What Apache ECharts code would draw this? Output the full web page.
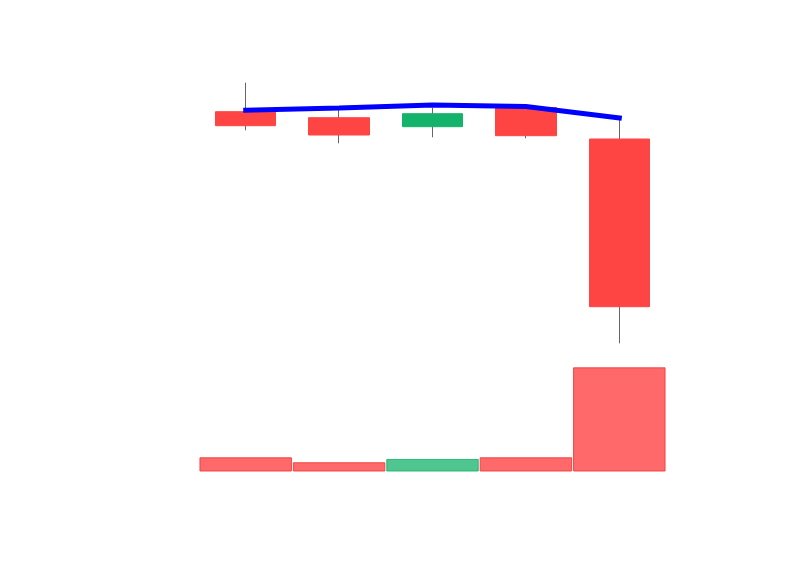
<!DOCTYPE html>
<html>
<head>
<meta charset="utf-8">
<script src="https://cdn.jsdelivr.net/npm/echarts@6/dist/echarts.min.js"></script>
<style>html,body{margin:0;padding:0;background:#fff;}#c{width:800px;height:575px;}</style>
</head>
<body>
<div id="c"></div>
<script>
var categories = ['D1', 'D2', 'D3', 'D4', 'D5'];
var opens  = [74.83, 74.23, 73.33, 75.25, 72.10];
var closes = [73.43, 72.50, 74.63, 72.43, 55.33];
var lows   = [72.97, 71.67, 72.27, 72.17, 51.67];
var highs  = [77.73, 75.00, 75.23, 75.40, 74.20];
var lineValues = [74.97, 75.20, 75.50, 75.35, 74.20];
var volumes = [12.9, 8.4, 11.4, 12.9, 94.7];

var RED = '#ff4444', GREEN = '#14b36b';

var wickData = categories.map(function (c, i) { return [lows[i], highs[i], lows[i], highs[i]]; });
var bodyData = categories.map(function (c, i) {
  return [opens[i], closes[i], Math.min(opens[i], closes[i]), Math.max(opens[i], closes[i])];
});
var volData = categories.map(function (c, i) {
  var up = closes[i] >= opens[i];
  return {
    value: volumes[i],
    itemStyle: {
      color: up ? 'rgba(20,179,107,0.75)' : 'rgba(255,68,68,0.8)',
      borderColor: up ? 'rgba(20,179,107,0.85)' : 'rgba(240,60,60,0.9)'
    }
  };
});

var chart = echarts.init(document.getElementById('c'));
chart.setOption({
  animation: false,
  backgroundColor: '#ffffff',
  grid: [
    { left: 199, right: 134, top: 60, height: 300 },
    { left: 199, right: 134, top: 361.5, height: 110 }
  ],
  xAxis: [
    { type: 'category', data: categories, gridIndex: 0, show: false, boundaryGap: true },
    { type: 'category', data: categories, gridIndex: 1, show: false, boundaryGap: true }
  ],
  yAxis: [
    { type: 'value', gridIndex: 0, min: 50, max: 80, show: false, splitLine: { show: false } },
    { type: 'value', gridIndex: 1, min: 0, max: 100, show: false, splitLine: { show: false } }
  ],
  series: [
    {
      type: 'candlestick', xAxisIndex: 0, yAxisIndex: 0, data: wickData,
      barWidth: 1, z: 1,
      itemStyle: { color: '#666666', color0: '#666666', borderColor: '#666666', borderColor0: '#666666', borderWidth: 1 }
    },
    {
      type: 'candlestick', xAxisIndex: 0, yAxisIndex: 0, data: bodyData,
      barWidth: '65%', z: 2,
      itemStyle: { color: GREEN, color0: RED, borderColor: GREEN, borderColor0: RED, borderWidth: 1 }
    },
    {
      type: 'line', xAxisIndex: 0, yAxisIndex: 0, data: lineValues,
      showSymbol: false, symbol: 'none', z: 5,
      lineStyle: { color: '#0000ff', width: 5, cap: 'square' }
    },
    {
      type: 'bar', xAxisIndex: 1, yAxisIndex: 1, data: volData,
      barWidth: '99%', itemStyle: { borderWidth: 1 }
    }
  ]
});
</script>
</body>
</html>
